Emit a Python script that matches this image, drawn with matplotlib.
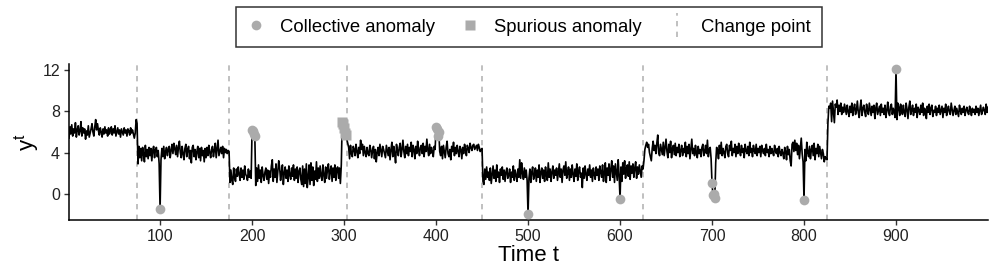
import numpy as np
import matplotlib
matplotlib.use('Agg')
import matplotlib.pyplot as plt
from matplotlib.lines import Line2D
from matplotlib.legend_handler import HandlerBase

# series values, one list per segment between change points
seg_1_75 = [5.4, 6.5, 5.8, 6.7, 5.6, 6.3, 5.9, 6.9, 5.5, 6.2, 6.6, 5.7, 6.1, 7.0, 5.6, 6.4, 5.9, 6.3, 5.3, 6.1,
            5.7, 6.6, 5.5, 5.9, 6.3, 6.8, 6.0, 5.6, 6.5, 7.2, 6.2, 6.8, 6.1, 5.7, 6.4, 6.0, 5.5, 6.3, 5.8, 6.5,
            5.9, 6.2, 5.6, 6.4, 5.8, 6.1, 6.5, 5.7, 6.3, 5.9, 6.6, 5.6, 6.0, 6.4, 5.8, 6.2, 5.5, 6.3, 6.0, 5.7,
            6.4, 5.9, 6.2, 5.6, 6.3, 6.1, 5.7, 6.4, 5.9, 6.2, 5.8, 5.4, 5.9, 7.2, 6.8]
seg_76_175 = [2.9, 4.6, 3.5, 4.4, 3.2, 4.5, 3.9, 3.1, 4.7, 3.6, 4.3, 3.4, 4.5, 3.7, 4.4, 3.2, 4.2, 4.6, 3.5, 4.3,
              4.5, 3.6, 4.2, 2.9, -1.5, 3.3, 4.4, 3.6, 4.6, 3.4, 4.1, 4.5, 3.7, 4.3, 4.6, 3.5, 4.2, 4.8, 3.9, 4.9,
              4.4, 3.8, 4.7, 3.6, 4.5, 5.1, 4.0, 3.5, 4.6, 3.9, 3.3, 4.4, 4.8, 3.6, 4.3, 4.6, 3.4, 4.2, 3.0, 4.5,
              4.7, 3.6, 4.3, 3.3, 4.1, 4.6, 3.5, 4.4, 3.2, 4.5, 3.7, 4.2, 3.1, 4.4, 3.5, 4.5, 3.7, 4.7, 4.0, 3.5,
              4.3, 4.6, 3.6, 4.2, 4.9, 3.5, 4.4, 5.2, 3.7, 4.1, 4.5, 3.9, 4.6, 3.5, 4.4, 4.0, 4.3, 3.9, 4.2, 4.1]
seg_176_303 = [1.1, 2.3, 1.3, 0.9, 2.5, 1.6, 1.2, 2.4, 1.7, 2.6, 1.9, 1.3, 2.5, 1.6, 2.3, 1.4, 2.7, 1.9, 1.7, 1.3,
               2.4, 1.6, 2.2, 1.5, 6.2, 6.1, 5.8, 5.6, 0.8, 2.5, 1.2, 2.8, 1.5, 2.3, 1.1, 2.6, 1.8, 1.3, 2.1, 2.5,
               1.4, 2.3, 1.0, 2.2, 1.6, 2.7, 3.3, 1.2, 2.4, 1.6, 2.9, 1.1, 2.2, 3.2, 2.5, 1.3, 2.1, 2.8, 0.9, 2.0,
               2.6, 1.5, 2.3, 1.2, 2.7, 1.8, 1.4, 2.5, 1.7, 2.8, 1.3, 2.4, 1.5, 2.6, 1.1, 2.2, 2.5, 1.4, 0.9, 2.7,
               0.7, 2.4, 1.0, 2.9, 0.6, 1.6, 2.8, 0.9, 3.0, 1.3, 2.6, 0.8, 2.2, 1.4, 3.1, 1.2, 2.5, 1.5, 2.7, 1.7,
               1.3, 2.8, 1.8, 1.1, 2.6, 1.5, 2.4, 2.9, 1.4, 2.2, 2.7, 1.2, 2.5, 1.6, 2.8, 1.3, 2.4, 2.6, 1.5, 2.5,
               1.0, 2.8, 7.0, 6.8, 6.4, 5.9, 5.7, 5.3]
seg_304_450 = [4.9, 4.5, 3.4, 4.7, 3.9, 3.6, 4.6, 4.3, 3.7, 4.8, 4.1, 3.5, 4.5, 3.9, 5.2, 4.3, 4.8, 3.7, 4.6, 4.0,
               3.6, 4.5, 3.9, 3.7, 4.7, 4.3, 3.5, 4.2, 4.6, 3.4, 4.3, 3.1, 4.0, 4.5, 3.7, 4.8, 4.2, 3.6, 4.6, 4.3,
               3.9, 3.5, 4.7, 4.2, 3.7, 4.5, 3.3, 4.3, 5.0, 3.6, 4.6, 3.9, 3.0, 4.8, 4.2, 3.7, 4.5, 4.9, 3.6, 4.3,
               5.2, 4.1, 3.5, 4.6, 3.9, 4.8, 3.7, 4.5, 4.1, 5.0, 3.6, 4.7, 4.3, 3.4, 4.6, 3.9, 5.1, 4.3, 3.7, 4.5,
               4.7, 3.9, 4.9, 3.6, 4.6, 4.1, 5.3, 4.3, 3.7, 4.8, 3.9, 4.5, 4.1, 3.6, 4.6, 4.3, 6.5, 6.3, 5.6, 6.0,
               4.1, 3.7, 4.6, 3.4, 4.7, 4.1, 3.5, 4.5, 5.1, 3.9, 3.6, 4.3, 3.3, 4.6, 4.1, 5.0, 3.7, 4.5, 3.9, 4.7,
               4.1, 3.6, 4.6, 4.3, 3.4, 4.5, 3.9, 4.8, 4.3, 3.7, 4.7, 4.4, 4.0, 4.9, 4.5, 4.2, 4.7, 4.8, 4.3, 4.5,
               4.7, 4.2, 4.8, 4.5, 4.1, 4.3, 4.4]
seg_451_625 = [1.2, 0.9, 2.4, 1.4, 2.6, 1.6, 2.1, 1.3, 2.5, 1.0, 1.9, 2.7, 1.5, 2.3, 1.2, 2.8, 1.6, 2.1, 1.1, 2.4,
               1.8, 2.6, 1.4, 2.3, 1.2, 2.1, 2.5, 1.5, 1.8, 2.4, 1.1, 2.1, 1.6, 2.7, 1.3, 2.3, 1.8, 1.2, 2.4, 1.6,
               3.3, 1.5, 3.0, 2.0, 1.4, 2.5, 1.6, 2.3, 1.3, -2.0, 1.5, 2.4, 1.1, 2.1, 2.6, 1.4, 1.8, 2.5, 1.2, 2.3,
               1.6, 2.8, 1.1, 2.1, 2.5, 1.5, 2.3, 1.2, 2.6, 1.8, 1.3, 3.0, 1.6, 2.4, 1.2, 2.1, 2.7, 1.5, 2.3, 1.8,
               2.5, 1.3, 2.1, 2.9, 1.6, 2.4, 1.1, 2.3, 2.7, 1.8, 3.1, 1.5, 2.0, 2.6, 1.3, 2.4, 1.6, 2.8, 1.9, 1.2,
               2.4, 1.7, 2.9, 1.3, 2.2, 2.6, 1.6, 2.0, 0.6, 2.5, 1.5, 2.7, 1.9, 1.3, 2.4, 1.8, 2.8, 1.6, 2.3, 1.2,
               2.5, 1.9, 1.4, 2.6, 1.8, 2.4, 1.3, 2.7, 2.1, 1.6, 2.8, 1.2, 2.0, 3.0, 1.1, 2.5, 1.8, 2.9, 1.3, 2.4,
               3.2, 1.6, 2.7, 1.1, 2.9, 2.1, 1.3, 3.3, 1.8, -0.5, 2.6, 1.2, 3.0, 1.9, 3.2, 1.5, 2.5, 2.8, 1.7, 3.1,
               1.4, 2.7, 2.0, 2.9, 1.6, 2.5, 3.1, 1.5, 2.6, 1.9, 2.8, 2.2, 1.6, 2.7, 2.4]
seg_626_825 = [3.2, 4.3, 4.7, 5.0, 4.5, 4.8, 4.0, 3.6, 3.2, 4.4, 5.1, 4.2, 4.7, 3.9, 4.9, 5.7, 4.0, 3.7, 4.8, 4.3,
               3.8, 5.0, 3.7, 4.5, 5.3, 4.1, 3.5, 4.8, 4.0, 5.1, 3.5, 4.4, 4.7, 3.8, 4.9, 3.7, 4.5, 4.0, 4.8, 3.6,
               4.2, 4.7, 3.7, 4.4, 4.0, 5.0, 3.6, 4.6, 3.9, 4.8, 3.4, 4.3, 5.3, 3.9, 4.4, 3.7, 4.7, 4.0, 3.5, 4.6,
               3.9, 4.3, 3.6, 4.5, 4.8, 3.7, 4.1, 4.7, 3.9, 5.2, 3.6, 4.3, 4.5, 3.4, 1.0, -0.1, 0.0, -0.4, 3.0, 4.5,
               4.3, 3.4, 4.7, 3.9, 5.0, 3.7, 4.4, 4.0, 3.5, 4.6, 4.8, 3.9, 3.6, 4.7, 4.2, 5.1, 3.7, 4.4, 4.0, 4.8,
               3.6, 4.6, 3.9, 4.9, 4.2, 3.7, 4.7, 4.0, 4.4, 3.5, 4.8, 4.2, 3.9, 4.6, 3.7, 5.0, 4.0, 4.4, 3.6, 4.7,
               4.2, 3.9, 4.8, 3.7, 4.4, 4.0, 4.6, 3.6, 4.7, 4.2, 3.9, 4.4, 3.7, 4.8, 4.0, 4.3, 3.6, 4.6, 3.9, 4.4,
               4.0, 3.7, 4.7, 4.2, 3.9, 4.4, 3.6, 4.6, 4.0, 3.7, 4.3, 3.9, 3.4, 4.5, 4.1, 3.3, 4.6, 3.8, 4.3, 3.2,
               2.7, 4.8, 5.0, 4.1, 5.2, 4.2, 4.9, 3.8, 4.7, 3.4, 4.4, 5.4, 3.9, 3.1, -0.6, 4.3, 3.2, 5.0, 4.0, 3.6,
               4.6, 3.4, 4.3, 4.7, 3.7, 4.9, 3.3, 4.4, 3.9, 4.8, 3.6, 4.6, 4.0, 3.4, 4.3, 3.9, 3.1, 3.6, 3.4, 3.3]
seg_826_1000 = [6.9, 8.5, 8.3, 8.8, 7.0, 9.0, 7.9, 6.9, 8.7, 8.4, 9.1, 7.7, 8.6, 8.0, 8.8, 7.7, 8.4, 7.9, 8.7, 8.2,
                7.7, 8.6, 8.0, 7.5, 8.5, 7.9, 8.8, 7.6, 8.3, 8.7, 7.7, 8.1, 9.0, 7.9, 7.4, 8.4, 9.1, 7.6, 8.3, 8.6,
                7.9, 7.5, 8.7, 8.1, 7.7, 8.8, 8.2, 7.6, 8.5, 7.9, 8.6, 7.3, 8.3, 8.8, 7.7, 8.1, 8.5, 7.6, 8.7, 7.9,
                8.3, 7.7, 8.6, 7.4, 8.1, 8.9, 7.9, 7.6, 8.5, 8.7, 7.7, 8.3, 7.9, 7.4, 12.1, 7.2, 8.8, 8.4, 7.6, 8.7,
                8.1, 7.7, 8.6, 7.9, 7.5, 8.8, 8.2, 7.3, 8.4, 9.0, 7.7, 8.1, 8.6, 7.6, 8.3, 7.9, 8.7, 7.4, 8.4, 8.1,
                7.7, 8.6, 7.9, 8.8, 7.6, 8.3, 8.1, 7.3, 8.5, 7.9, 8.7, 7.7, 8.3, 8.6, 7.5, 8.1, 7.9, 8.5, 7.6, 8.3,
                7.9, 8.6, 7.7, 8.1, 8.5, 7.4, 8.3, 7.9, 8.7, 7.6, 8.1, 8.5, 7.9, 7.7, 8.8, 8.2, 7.6, 8.1, 8.5, 7.7,
                8.3, 7.9, 7.5, 8.6, 8.1, 7.7, 8.3, 7.9, 8.5, 7.6, 8.1, 8.4, 7.9, 7.7, 8.5, 8.1, 7.6, 8.3, 7.9, 8.2,
                7.7, 8.5, 7.9, 8.3, 7.6, 8.1, 8.6, 7.7, 8.0, 8.4, 8.1, 7.7, 8.7, 7.9, 8.4]

change_points = [75, 175, 303, 450, 625, 825]
collective_t = [100, 200, 201, 202, 203, 400, 401, 402, 403, 500, 600, 700, 701, 702, 703, 800, 900]
spurious_t = [298, 299, 300, 301, 302]
x_ticks = [100, 200, 300, 400, 500, 600, 700, 800, 900]
y_ticks = [0, 4, 8, 12]

y = np.array(seg_1_75 + seg_76_175 + seg_176_303 + seg_304_450 + seg_451_625 + seg_626_825 + seg_826_1000)
t = np.arange(1, len(y) + 1)

plt.rcParams['font.family'] = ['Liberation Sans', 'DejaVu Sans']
plt.rcParams['mathtext.fontset'] = 'custom'
plt.rcParams['mathtext.rm'] = 'Liberation Sans'
plt.rcParams['mathtext.it'] = 'Liberation Sans'

pt_col = '#ABABAB'
cp_col = '#B5B5B5'

fig = plt.figure(figsize=(9.97, 2.77), dpi=100)
ax = fig.add_axes([69 / 997, 1 - 220 / 277, (988 - 69) / 997, (220 - 64) / 277])

for cp in change_points:
    ax.axvline(cp, color=cp_col, lw=1.2, ls=(0, (3.2, 3.2)), zorder=1)
ax.plot(t, y, color='black', lw=1.2, zorder=2)
ax.plot(collective_t, y[np.array(collective_t) - 1], 'o', color=pt_col, ms=7, mec='none', zorder=3)
ax.plot(spurious_t, y[np.array(spurious_t) - 1], 's', color=pt_col, ms=6.5, mec='none', zorder=3)

ax.set_xlim(1, 1000)
ax.set_ylim(-2.55, 12.6)
ax.set_xticks(x_ticks)
ax.set_yticks(y_ticks)
ax.tick_params(labelsize=11.5, labelcolor='#222222', length=3.5, width=1.0, color='#333333', pad=3)
for s in ['top', 'right']:
    ax.spines[s].set_visible(False)
for s in ['left', 'bottom']:
    ax.spines[s].set_linewidth(1.1)
ax.set_xlabel('Time t', fontsize=16, labelpad=1)
ax.set_ylabel(r'$\mathregular{y^t}$', fontsize=16, labelpad=1)


class VLineHandler(HandlerBase):
    def create_artists(self, legend, orig_handle, xdescent, ydescent, width, height, fontsize, trans):
        x = width / 2 - xdescent
        ln = Line2D([x, x], [-ydescent - 4, height - ydescent + 4], color=cp_col, lw=1.2,
                    ls=(0, (3.2, 3.2)), transform=trans)
        return [ln]


h_col = Line2D([], [], ls='none', marker='o', color=pt_col, ms=7, mec='none')
h_spu = Line2D([], [], ls='none', marker='s', color=pt_col, ms=6.5, mec='none')
h_cp = Line2D([], [], color=cp_col)
leg = fig.legend([h_col, h_spu, h_cp], ['Collective anomaly', 'Spurious anomaly', 'Change point'],
                 loc='center', bbox_to_anchor=(529 / 997, 1 - 27 / 277), ncol=3, fontsize=13.3,
                 frameon=True, fancybox=False, edgecolor='black', handlelength=1.0,
                 handletextpad=0.8, columnspacing=1.4, borderpad=0.6,
                 handler_map={h_cp: VLineHandler()})
leg.get_frame().set_linewidth(1.1)

plt.savefig('out.png', dpi=100)
